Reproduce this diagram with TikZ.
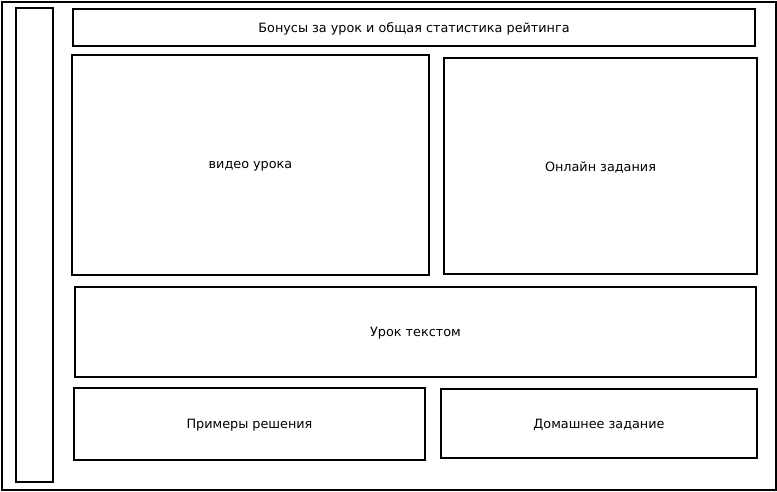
\documentclass[tikz,border=0pt]{standalone}
\usepackage{fontspec}
\setmainfont{DejaVu Sans}
\begin{document}
\begin{tikzpicture}[x=1pt,y=-1pt,
  panel/.style={draw=black,line width=1.3pt},
  lbl/.style={font=\fontsize{12.8}{14}\selectfont}]
\useasboundingbox (0,0) rectangle (777,492);
% outer frame and side bar
\draw[panel] (2,2) rectangle (776,490);
\draw[panel] (16,8) rectangle (53,482);
% content blocks
\draw[panel] (73,9) rectangle (755,46);
\node[lbl] (bonus) at (414,29) {Бонусы за урок и общая статистика рейтинга};
\draw[panel] (72,55) rectangle (429,275);
\node[lbl] (video) at (250.5,166.5) {видео урока};
\draw[panel] (444,58) rectangle (757,274);
\node[lbl] (online) at (600.5,167.5) {Онлайн задания};
\draw[panel] (75,287) rectangle (756,377);
\node[lbl] (text) at (415.5,333.5) {Урок текстом};
\draw[panel] (74,388) rectangle (425,460);
\node[lbl] (examples) at (249.5,425.5) {Примеры решения};
\draw[panel] (441,389) rectangle (757,458);
\node[lbl] (homework) at (599,425) {Домашнее задание};
\end{tikzpicture}
\end{document}
